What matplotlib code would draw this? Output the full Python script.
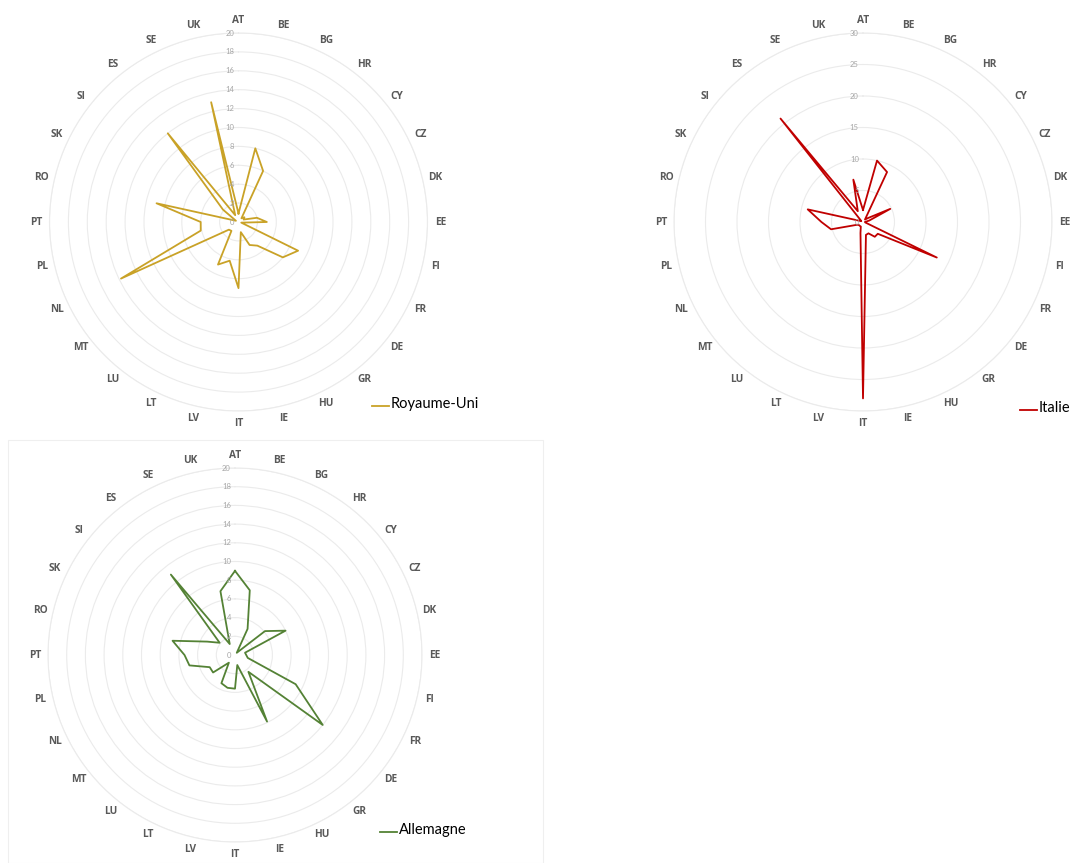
import numpy as np
import matplotlib
matplotlib.use("Agg")
import matplotlib.pyplot as plt
from matplotlib.lines import Line2D
from matplotlib.patches import Rectangle
from matplotlib.transforms import offset_copy

plt.rcParams['font.family'] = ['Lato', 'DejaVu Sans']

# --- Données ---
pays = ["AT", "BE", "BG", "HR", "CY", "CZ", "DK", "EE", "FI", "FR", "DE", "GR", "HU", "IE",
        "IT", "LV", "LT", "LU", "MT", "NL", "PL", "PT", "RO", "SK", "SI", "ES", "SE", "UK"]

royaume_uni = [0.9, 8, 6, 0.5, 0.8, 0.6, 2, 3, 0.3, 7, 6, 3.2, 2.7, 1.1,
               7, 4.2, 5, 1.2, 1.3, 13.8, 4.1, 4, 8.9, 0.3, 2.1, 12, 0.8, 13]
italie = [1.9, 10, 8.8, 0.5, 1.0, 4.8, 1.0, 0.3, 0.4, 13, 3.0, 3.0, 2.0, 2.1,
          28, 1.8, 0.8, 0.8, 0.8, 1.0, 5.2, 6.6, 9.0, 0.3, 0.5, 21, 1.9, 6.9]
allemagne = [9, 7.1, 3.1, 0.3, 4.1, 6.0, 1.1, 1.2, 1.4, 7.2, 12, 2.3, 7.9, 1.1,
             3.6, 3.6, 3.35, 1.05, 3.0, 3.0, 5.0, 5.4, 6.85, 3.3, 2.1, 11, 1.3, 7]

W, H = 1078, 863
fig = plt.figure(figsize=(W / 100, H / 100), dpi=100)

grille = "#ebebeb"
gris_txt = "#595959"


def radar(cx, cy, rayon, valeurs, rmax, pas, couleur):
    # position en pixels (origine en haut à gauche)
    ax = fig.add_axes([(cx - rayon) / W, 1 - (cy + rayon) / H, 2 * rayon / W, 2 * rayon / H],
                      projection="polar")
    ax.set_theta_zero_location("N")
    ax.set_theta_direction(-1)
    angles = np.arange(len(pays)) * 2 * np.pi / len(pays)
    a = np.concatenate([angles, angles[:1]])
    v = np.concatenate([valeurs, valeurs[:1]])
    ax.plot(a, v, color=couleur, lw=1.3, zorder=3)
    ax.set_ylim(0, rmax)
    ticks = np.arange(0, rmax + pas, pas)
    ax.set_yticks(ticks)
    ax.set_yticklabels([])
    ax.set_xticks([])
    ax.yaxis.grid(True, color=grille, lw=0.8)
    ax.spines["polar"].set_color(grille)
    ax.spines["polar"].set_linewidth(0.8)
    ax.set_facecolor("none")
    tr = offset_copy(ax.transData, fig=fig, x=-3, y=0, units="points")
    for t in ticks:
        ax.text(0, t, str(int(t)), transform=tr, ha="right", va="center",
                fontsize=5.5, color="#a6a6a6")
    for ang, p in zip(angles, pays):
        ax.text(ang, rmax * 1.068, p, ha="center", va="center", fontsize=7.3,
                fontweight="bold", family=["Open Sans", "DejaVu Sans"],
                color=gris_txt, clip_on=False)
    return ax


def legende(x0, y, texte, couleur):
    fig.add_artist(Line2D([x0 / W, (x0 + 17) / W], [1 - (y + 2) / H, 1 - (y + 2) / H],
                          color=couleur, lw=1.3))
    fig.text((x0 + 19) / W, 1 - y / H, texte, ha="left", va="center",
             fontsize=10.5, color="black")


# cadre du troisième graphique
fig.add_artist(Rectangle((8 / W, 0), (543 - 8) / W, 1 - 440 / H, transform=fig.transFigure,
                         fill=False, edgecolor="#efefef", lw=0.8))

radar(238.5, 222, 189, royaume_uni, 20, 2, "#c9a227")
radar(863, 222, 189, italie, 30, 5, "#c00000")
radar(235, 655, 187, allemagne, 20, 2, "#548235")

legende(372, 404, "Royaume-Uni", "#c9a227")
legende(1020, 408, "Italie", "#c00000")
legende(380, 830, "Allemagne", "#548235")

fig.savefig("out.png", dpi=100, facecolor="white")
